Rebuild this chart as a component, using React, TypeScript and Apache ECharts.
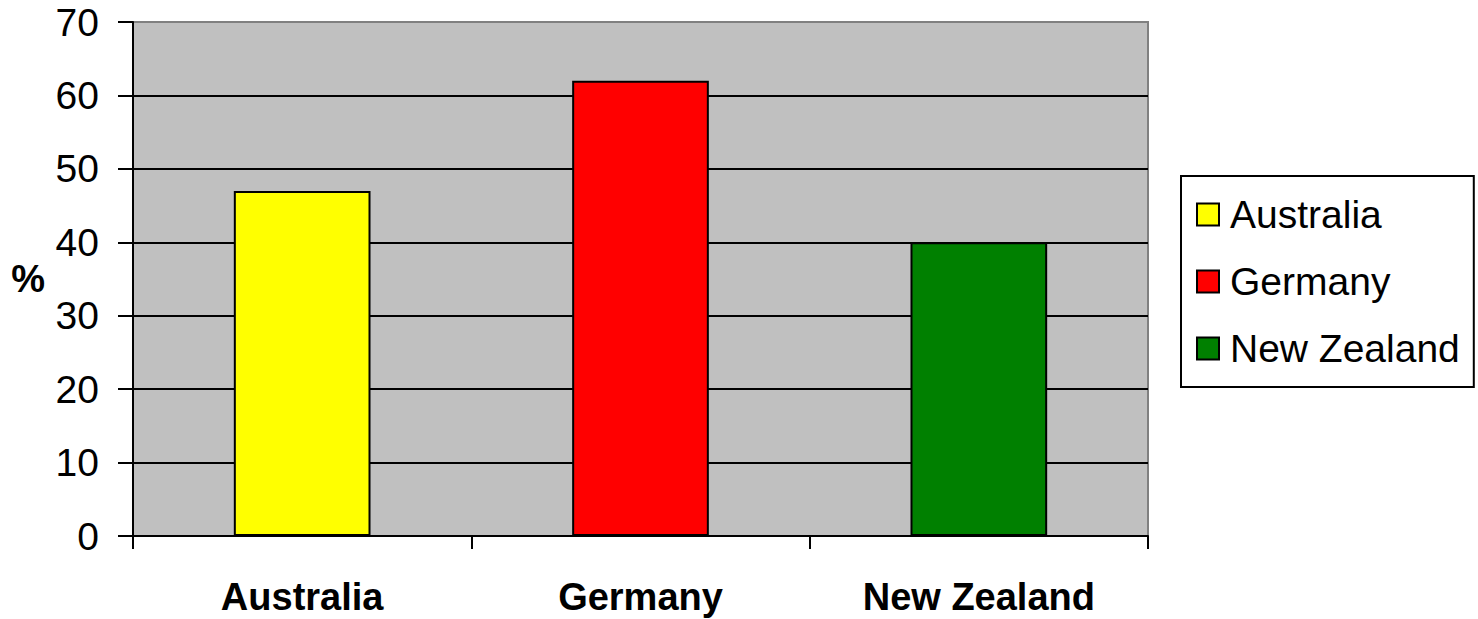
import React, { useEffect, useRef } from "react";
import * as echarts from "echarts";

const categories = ["Australia", "Germany", "New Zealand"];
const values = [47, 62, 40];
const colors = ["#FFFF00", "#FF0000", "#008000"];
const yTicks = { min: 0, max: 70, interval: 10 };

export default function App() {
  const ref = useRef<HTMLDivElement>(null);
  useEffect(() => {
    document.body.style.margin = "0";
    const chart = echarts.init(ref.current!, null, { renderer: "svg" });
    const font = "'Liberation Sans', Arial, sans-serif";
    const series = categories.map((name, i) => ({
      name,
      type: "bar",
      stack: "all",
      barWidth: "40.4%",
      data: values.map((v, j) => (j === i ? v : "-")),
      itemStyle: { color: colors[i], borderColor: "#000", borderWidth: 2 },
    }));
    chart.setOption({
      animation: false,
      textStyle: { fontFamily: font },
      grid: {
        left: 133,
        right: 330,
        top: 22,
        bottom: 83,
        outerBoundsMode: "none",
        containLabel: false,
        show: true,
        backgroundColor: "#C0C0C0",
        borderColor: "#808080",
        borderWidth: 2,
      },
      legend: {
        orient: "vertical",
        left: 1181,
        top: 176,
        data: categories,
        icon: "rect",
        itemWidth: 22,
        itemHeight: 22,
        itemGap: 28,
        padding: [19, 14, 19, 15],
        borderColor: "#000",
        borderWidth: 2,
        backgroundColor: "#fff",
        textStyle: { fontSize: 39, color: "#000", fontFamily: font, padding: [0, 0, 0, 6] },
      },
      xAxis: {
        type: "category",
        data: categories,
        axisLine: { lineStyle: { color: "#000", width: 2 } },
        axisTick: { show: true, length: 13, lineStyle: { color: "#000", width: 2 } },
        axisLabel: { fontSize: 38, fontWeight: "bold", color: "#000", margin: 42, fontFamily: font },
      },
      yAxis: {
        type: "value",
        min: yTicks.min,
        max: yTicks.max,
        interval: yTicks.interval,
        name: "%",
        nameLocation: "middle",
        nameRotate: 0,
        nameGap: 88,
        nameTextStyle: { fontSize: 38, fontWeight: "bold", color: "#000", fontFamily: font },
        axisLine: { show: true, lineStyle: { color: "#000", width: 2 } },
        axisTick: { show: true, length: 15, lineStyle: { color: "#000", width: 2 } },
        axisLabel: { fontSize: 39, color: "#000", margin: 34, fontFamily: font },
        splitLine: { show: true, showMaxLine: false, lineStyle: { color: "#000", width: 2 } },
      },
      series,
    });
    return () => chart.dispose();
  }, []);
  return <div ref={ref} style={{ width: 1478, height: 619 }} />;
}
